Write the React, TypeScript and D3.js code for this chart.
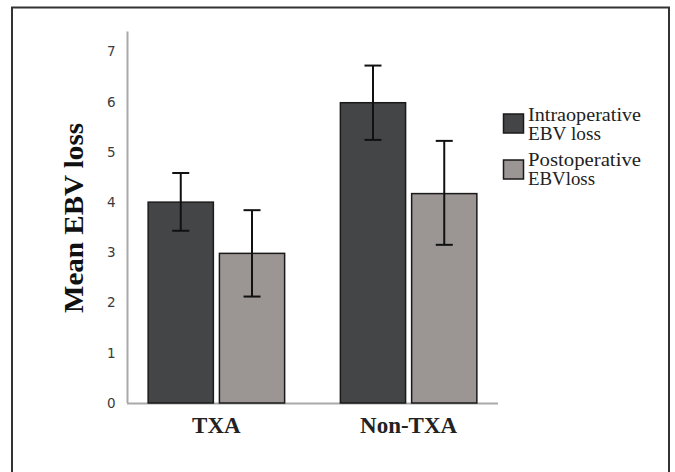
import React from "react";
import * as d3 from "d3";

const groups = ["TXA", "Non-TXA"];
const seriesNames = ["Intraoperative EBV loss", "Postoperative EBVloss"];
const legendLines = [["Intraoperative", "EBV loss"], ["Postoperative", "EBVloss"]];
const legendWidths = [[113, 73], [113, 67]];
const intraMeans = [4.0, 5.98];
const intraLow = [3.43, 5.24];
const intraHigh = [4.58, 6.72];
const postMeans = [2.98, 4.17];
const postLow = [2.12, 3.15];
const postHigh = [3.84, 5.22];
const yTicks = [0, 1, 2, 3, 4, 5, 6, 7];

const W = 675;
const H = 472;
const fills = ["#444547", "#9b9694"];

export default function App() {
  const y = d3.scaleLinear().domain([0, 7]).range([403, 51.5]);
  const x0 = d3.scaleBand().domain(groups).range([127, 498]).paddingInner(0.29).paddingOuter(0.11);
  const x1 = d3.scaleBand().domain(seriesNames).range([0, x0.bandwidth()]).paddingInner(0.085);

  const rows = [
    { name: seriesNames[0], means: intraMeans, lo: intraLow, hi: intraHigh },
    { name: seriesNames[1], means: postMeans, lo: postLow, hi: postHigh },
  ];
  const serif = "'Liberation Serif', 'Times New Roman', serif";
  const cap = 8.5;

  return (
    <svg width={W} height={H} style={{ position: "absolute", left: 0, top: 0, background: "#fff" }}>
      <path d={`M12,${H + 5} L12,7.5 L669,7.5 L669,${H + 5}`} fill="none" stroke="#333" strokeWidth={2} />

      {/* axes */}
      <line x1={127.5} x2={127.5} y1={31.5} y2={403} stroke="#a9a9a9" strokeWidth={2} />
      <line x1={127} x2={498} y1={403.5} y2={403.5} stroke="#a9a9a9" strokeWidth={2} />

      {yTicks.map((t) => (
        <text key={t} x={115.5} y={y(t)} dy="0.36em" textAnchor="end" fontFamily="'DejaVu Sans', 'Liberation Sans', sans-serif" fontSize={13.5} fill="#3a3a3a">
          {t}
        </text>
      ))}

      {rows.map((r, si) =>
        groups.map((g, gi) => {
          const bx = (x0(g) as number) + (x1(r.name) as number);
          const bw = x1.bandwidth();
          const cx = bx + bw / 2;
          return (
            <g key={g + si}>
              <rect x={bx} y={y(r.means[gi])} width={bw} height={y(0) - y(r.means[gi])} fill={fills[si]} stroke="#1a1a1a" strokeWidth={1.5} />
              <line x1={cx} x2={cx} y1={y(r.lo[gi])} y2={y(r.hi[gi])} stroke="#111" strokeWidth={2} />
              <line x1={cx - cap} x2={cx + cap} y1={y(r.lo[gi])} y2={y(r.lo[gi])} stroke="#111" strokeWidth={2} />
              <line x1={cx - cap} x2={cx + cap} y1={y(r.hi[gi])} y2={y(r.hi[gi])} stroke="#111" strokeWidth={2} />
            </g>
          );
        })
      )}

      {groups.map((g) => (
        <text key={g} x={(x0(g) as number) + x0.bandwidth() / 2} y={433} textAnchor="middle" fontFamily={serif} fontWeight="bold" fontSize={23} fill="#222">
          {g}
        </text>
      ))}

      <text transform="translate(83,218) rotate(-90)" textAnchor="middle" fontFamily={serif} fontWeight="bold" fontSize={27} fill="#111" textLength={190} lengthAdjust="spacingAndGlyphs">
        Mean EBV loss
      </text>

      {legendLines.map((lines, i) => {
        const top = i === 0 ? 114 : 160;
        const base = i === 0 ? 121 : 166;
        return (
          <g key={i}>
            <rect x={503.5} y={top} width={20} height={19} fill={fills[i]} stroke="#1a1a1a" strokeWidth={1.5} />
            {lines.map((l, li) => (
              <text key={li} x={528} y={base + li * 19} fontFamily={serif} fontSize={18.5} fill="#222" textLength={legendWidths[i][li]} lengthAdjust="spacingAndGlyphs">
                {l}
              </text>
            ))}
          </g>
        );
      })}
    </svg>
  );
}
